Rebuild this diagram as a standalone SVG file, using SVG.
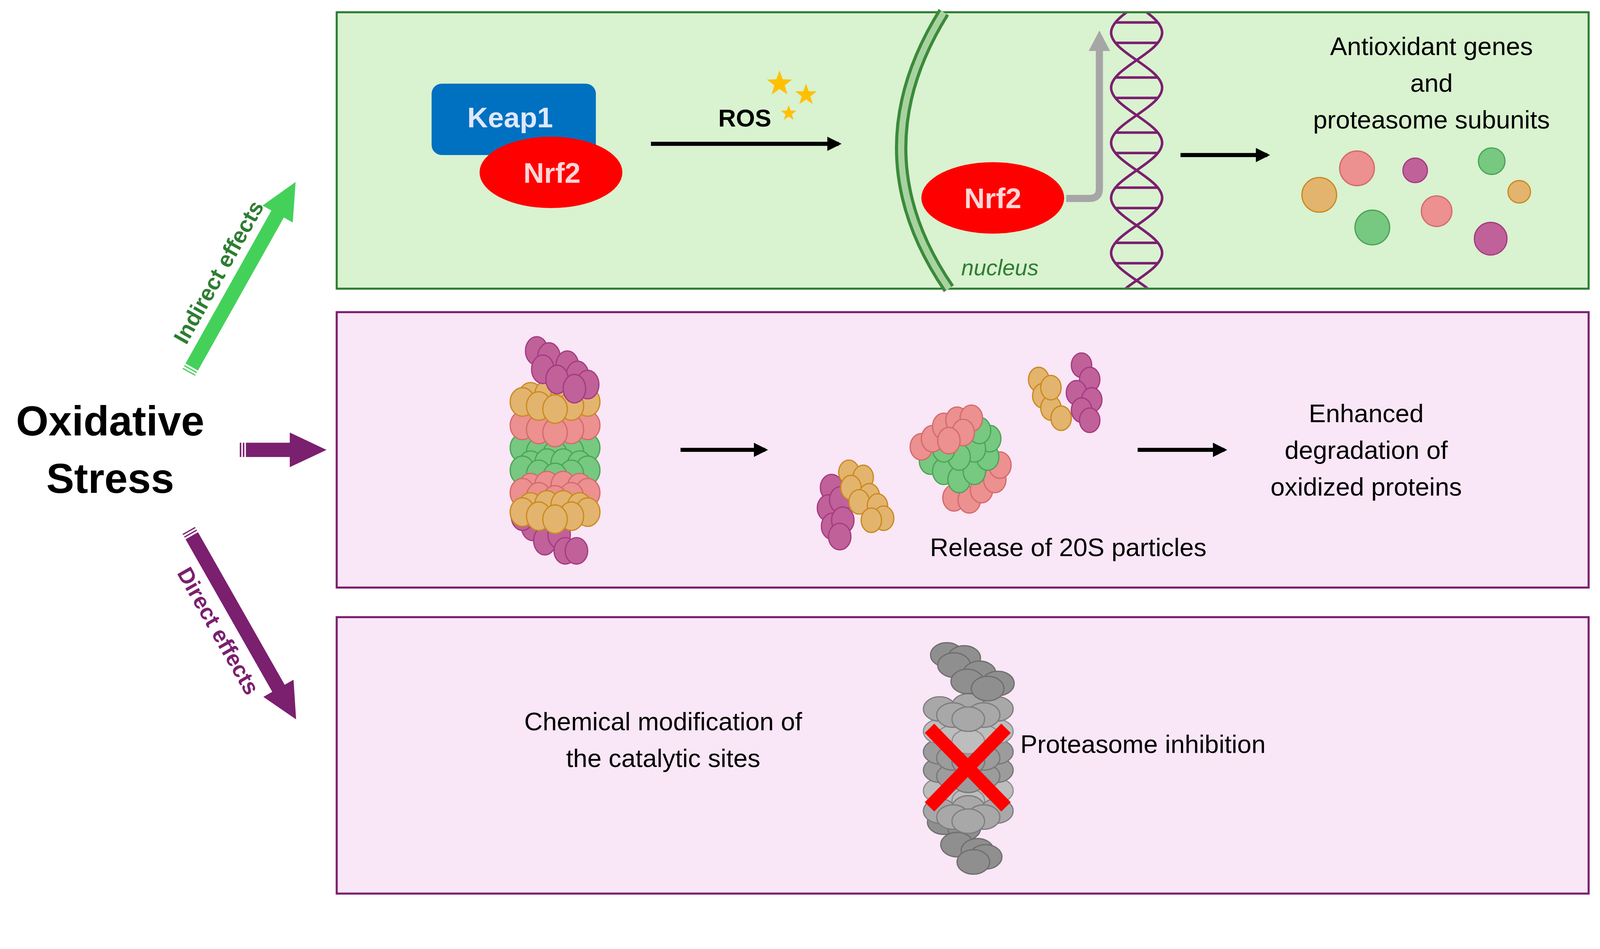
<svg xmlns="http://www.w3.org/2000/svg" xmlns:xlink="http://www.w3.org/1999/xlink" width="4288" height="2430" viewBox="0 0 4288 2430">
<style>
.t{font-family:"Liberation Sans",Arial,sans-serif;font-size:25px;fill:#000;text-anchor:middle}
.b{font-family:"Liberation Sans",Arial,sans-serif;font-weight:bold}
.o{fill:#e3b46e;stroke:#c98a1e;stroke-width:1.2}
.p{fill:#ec9090;stroke:#d46a6a;stroke-width:1.2}
.g{fill:#77c880;stroke:#4aa456;stroke-width:1.2}
.u{fill:#c0619a;stroke:#a53a80;stroke-width:1.2}
.k1{fill:#8f8f8f;stroke:#6e6e6e;stroke-width:1.2}
.k2{fill:#a8a8a8;stroke:#7e7e7e;stroke-width:1.2}
.k3{fill:#bdbdbd;stroke:#8e8e8e;stroke-width:1.2}
.k4{fill:#9c9c9c;stroke:#777;stroke-width:1.2}
.ar{stroke:#000;stroke-width:4;fill:none;marker-end:url(#ah)}
</style>
<defs>
<marker id="ah" viewBox="0 0 10 10" refX="8" refY="5" markerWidth="3.5" markerHeight="4" orient="auto" markerUnits="strokeWidth"><path d="M0,0 L10,5 L0,10 Z" fill="#000"/></marker>
<clipPath id="dnaclip"><rect x="1080" y="13" width="70" height="269"/></clipPath>
<g id="ring">
<ellipse cx="-24" cy="-6" rx="12" ry="14"/><ellipse cx="-8" cy="-8" rx="12" ry="14"/><ellipse cx="8" cy="-8" rx="12" ry="14"/><ellipse cx="24" cy="-6" rx="12" ry="14"/>
<ellipse cx="-32" cy="-1" rx="12" ry="14"/><ellipse cx="32" cy="-1" rx="12" ry="14"/><ellipse cx="-16" cy="3" rx="12" ry="14"/><ellipse cx="16" cy="3" rx="12" ry="14"/><ellipse cx="0" cy="6" rx="12" ry="14"/>
</g>
<g id="gring">
<ellipse cx="-28" cy="-5" rx="16" ry="12"/><ellipse cx="0" cy="-8" rx="16" ry="12"/><ellipse cx="28" cy="-5" rx="16" ry="12"/>
<ellipse cx="-15" cy="1" rx="16" ry="12"/><ellipse cx="15" cy="1" rx="16" ry="12"/><ellipse cx="0" cy="5" rx="16" ry="12"/>
</g>
</defs>
<rect width="4288" height="2430" fill="#fff"/>
<g transform="scale(2.612,2.612)">
<g id="panels">
<rect x="330" y="12" width="1227" height="271" fill="#d9f2d0" stroke="#2e7d32" stroke-width="2"/>
<rect x="330" y="306" width="1227" height="270" fill="#f9e6f6" stroke="#7b1f6f" stroke-width="2"/>
<rect x="330" y="605" width="1227" height="271" fill="#f9e6f6" stroke="#7b1f6f" stroke-width="2"/>
</g>
<g id="oxidative-stress">
<text class="b" x="108" y="427" font-size="41" text-anchor="middle">Oxidative</text>
<text class="b" x="108" y="483" font-size="41" text-anchor="middle">Stress</text>
</g>
<g id="connectors">
<g fill="#7b1f6f">
<rect x="241" y="434" width="47" height="14"/><polygon points="284,424 320,441 284,458"/>
<rect x="235" y="434" width="1.5" height="14"/><rect x="238" y="434" width="1.5" height="14"/>
</g>
<g transform="translate(185,365) rotate(-60.7)">
<rect x="6" y="-7" width="174" height="14" fill="#44d15a"/><rect x="0" y="-7" width="1.2" height="14" fill="#44d15a"/><rect x="3" y="-7" width="1.2" height="14" fill="#44d15a"/><polygon points="178,-17 214,0 178,17" fill="#44d15a"/>
<text class="b" x="100" y="-15" font-size="22" fill="#2e7d32" text-anchor="middle">Indirect effects</text>
</g>
<g transform="translate(185,520) rotate(60.4)">
<rect x="6" y="-7" width="174" height="14" fill="#7b1f6f"/><rect x="0" y="-7" width="1.2" height="14" fill="#7b1f6f"/><rect x="3" y="-7" width="1.2" height="14" fill="#7b1f6f"/><polygon points="178,-17 213,0 178,17" fill="#7b1f6f"/>
<text class="b" x="100" y="31" font-size="22" fill="#7b1f6f" text-anchor="middle">Direct effects</text>
</g>
<line class="ar" x1="638" y1="141" x2="822" y2="141"/>
<line class="ar" x1="1157" y1="152" x2="1242" y2="152"/>
<line class="ar" x1="667" y1="441" x2="750" y2="441"/>
<line class="ar" x1="1115" y1="441" x2="1200" y2="441"/>
<path d="M1045,194.5 H1068 Q1077.5,194.5 1077.5,185 V48" fill="none" stroke="#a6a6a6" stroke-width="7"/>
<polygon points="1077.5,30 1067,50 1088,50" fill="#a6a6a6"/>
</g>
<g id="keap1-nrf2">
<rect x="423" y="82" width="161" height="70" rx="10" fill="#0070c0"/>
<text class="b" x="500" y="125" font-size="28" fill="#dde8ff" text-anchor="middle">Keap1</text>
<ellipse cx="540" cy="169" rx="70" ry="35" fill="#ff0000"/>
<text class="b" x="541" y="179" font-size="28" fill="#ffd6d6" text-anchor="middle">Nrf2</text>
</g>
<g id="ros">
<text class="b" x="730" y="124" font-size="24" text-anchor="middle">ROS</text>
<g fill="#ffc000">
<polygon transform="translate(764,82) scale(1.3)" points="0,-10 2.4,-3.3 9.5,-3.1 3.9,1.3 5.9,8.1 0,4.1 -5.9,8.1 -3.9,1.3 -9.5,-3.1 -2.4,-3.3"/>
<polygon transform="translate(790,93) scale(1.1)" points="0,-10 2.4,-3.3 9.5,-3.1 3.9,1.3 5.9,8.1 0,4.1 -5.9,8.1 -3.9,1.3 -9.5,-3.1 -2.4,-3.3"/>
<polygon transform="translate(773,111) scale(0.8)" points="0,-10 2.4,-3.3 9.5,-3.1 3.9,1.3 5.9,8.1 0,4.1 -5.9,8.1 -3.9,1.3 -9.5,-3.1 -2.4,-3.3"/>
</g>
</g>
<g id="nucleus">
<path d="M925,12 Q839,150 930,283" fill="none" stroke="#3a8a3a" stroke-width="12"/>
<path d="M925,12 Q839,150 930,283" fill="none" stroke="#a8d3a0" stroke-width="6"/>
<text x="980" y="270" font-family="Liberation Sans,Arial,sans-serif" font-style="italic" font-size="22" fill="#2e7d32" text-anchor="middle">nucleus</text>
</g>
<g id="nrf2-nucleus">
<ellipse cx="973" cy="194" rx="70" ry="35" fill="#ff0000"/>
<text class="b" x="973" y="204" font-size="28" fill="#ffd6d6" text-anchor="middle">Nrf2</text>
</g>
<g id="dna" fill="none" stroke="#7b1f6f" stroke-width="2.5" clip-path="url(#dnaclip)">
<path d="M1139,-22 C1139,-2.6 1089,12.6 1089,32 C1089,51.4 1139,66.6 1139,86 C1139,105.4 1089,120.6 1089,140 C1089,159.4 1139,174.6 1139,194 C1139,213.4 1089,228.6 1089,248 C1089,267.4 1139,282.6 1139,302"/>
<path d="M1089,-22 C1089,-2.6 1139,12.6 1139,32 C1139,51.4 1089,66.6 1089,86 C1089,105.4 1139,120.6 1139,140 C1139,159.4 1089,174.6 1089,194 C1089,213.4 1139,228.6 1139,248 C1139,267.4 1089,282.6 1089,302"/>
<path d="M1093,22 H1135 M1093,42 H1135 M1093,76 H1135 M1093,96 H1135 M1093,130 H1135 M1093,150 H1135 M1093,184 H1135 M1093,204 H1135 M1093,238 H1135 M1093,258 H1135"/>
</g>
<g id="antioxidant">
<text class="t" x="1403" y="54">Antioxidant genes</text>
<text class="t" x="1403" y="90">and</text>
<text class="t" x="1403" y="126">proteasome subunits</text>
<circle class="o" cx="1293" cy="191" r="17"/><circle class="p" cx="1330" cy="165" r="17"/>
<circle class="u" cx="1387" cy="167" r="12"/><circle class="g" cx="1462" cy="158" r="13"/>
<circle class="o" cx="1489" cy="188" r="11"/><circle class="p" cx="1408" cy="207" r="15"/>
<circle class="g" cx="1345" cy="223" r="17"/><circle class="u" cx="1461" cy="234" r="16"/>
</g>
<g id="proteasome-26s">
<g class="u"><ellipse cx="522" cy="516" rx="11" ry="14"/><ellipse cx="534" cy="530" rx="11" ry="14"/><ellipse cx="548" cy="524" rx="11" ry="14"/><ellipse cx="554" cy="540" rx="11" ry="13"/><ellipse cx="565" cy="540" rx="11" ry="13"/><ellipse cx="512" cy="506" rx="11" ry="14"/></g>
<use href="#ring" x="544" y="440" class="g"/><use href="#ring" x="544" y="462" class="g"/>
<use href="#ring" x="544" y="418" class="p"/><use href="#ring" x="544" y="484" class="p"/>
<use href="#ring" x="544" y="395" class="o"/><use href="#ring" x="544" y="503" class="o"/>
<g class="u"><ellipse cx="526" cy="344" rx="11" ry="14"/><ellipse cx="538" cy="350" rx="11" ry="14"/><ellipse cx="532" cy="362" rx="11" ry="14"/><ellipse cx="556" cy="358" rx="11" ry="14"/><ellipse cx="566" cy="368" rx="11" ry="14"/><ellipse cx="546" cy="372" rx="11" ry="14"/><ellipse cx="576" cy="377" rx="11" ry="14"/><ellipse cx="563" cy="381" rx="11" ry="14"/></g>
</g>
<g id="fragments">
<g class="u"><ellipse cx="815" cy="478" rx="11" ry="13"/><ellipse cx="812" cy="498" rx="11" ry="13"/><ellipse cx="824" cy="490" rx="11" ry="13"/><ellipse cx="816" cy="516" rx="11" ry="13"/><ellipse cx="826" cy="510" rx="11" ry="13"/><ellipse cx="823" cy="526" rx="11" ry="13"/></g>
<g class="o"><ellipse cx="832" cy="463" rx="10" ry="12"/><ellipse cx="846" cy="468" rx="10" ry="12"/><ellipse cx="834" cy="478" rx="10" ry="12"/><ellipse cx="852" cy="486" rx="10" ry="12"/><ellipse cx="842" cy="492" rx="10" ry="12"/><ellipse cx="860" cy="496" rx="10" ry="12"/><ellipse cx="866" cy="508" rx="10" ry="12"/><ellipse cx="854" cy="510" rx="10" ry="12"/></g>
<g class="p"><ellipse cx="935" cy="488" rx="11" ry="13"/><ellipse cx="950" cy="490" rx="11" ry="13"/><ellipse cx="962" cy="480" rx="11" ry="13"/><ellipse cx="975" cy="470" rx="11" ry="13"/><ellipse cx="980" cy="456" rx="11" ry="13"/></g>
<g class="g"><ellipse cx="912" cy="452" rx="11" ry="13"/><ellipse cx="925" cy="462" rx="11" ry="13"/><ellipse cx="940" cy="470" rx="11" ry="13"/><ellipse cx="955" cy="462" rx="11" ry="13"/><ellipse cx="968" cy="448" rx="11" ry="13"/><ellipse cx="970" cy="430" rx="11" ry="13"/><ellipse cx="955" cy="440" rx="11" ry="13"/><ellipse cx="940" cy="448" rx="11" ry="13"/><ellipse cx="925" cy="440" rx="11" ry="13"/><ellipse cx="960" cy="422" rx="11" ry="13"/></g>
<g class="p"><ellipse cx="903" cy="438" rx="11" ry="13"/><ellipse cx="914" cy="430" rx="11" ry="13"/><ellipse cx="925" cy="418" rx="11" ry="13"/><ellipse cx="938" cy="412" rx="11" ry="13"/><ellipse cx="952" cy="410" rx="11" ry="13"/><ellipse cx="944" cy="424" rx="11" ry="13"/><ellipse cx="930" cy="432" rx="11" ry="13"/></g>
<g class="o"><ellipse cx="1018" cy="372" rx="10" ry="12"/><ellipse cx="1022" cy="388" rx="10" ry="12"/><ellipse cx="1030" cy="400" rx="10" ry="12"/><ellipse cx="1040" cy="410" rx="10" ry="12"/><ellipse cx="1030" cy="380" rx="10" ry="12"/></g>
<g class="u"><ellipse cx="1060" cy="358" rx="10" ry="12"/><ellipse cx="1068" cy="372" rx="10" ry="12"/><ellipse cx="1055" cy="385" rx="10" ry="12"/><ellipse cx="1070" cy="392" rx="10" ry="12"/><ellipse cx="1060" cy="402" rx="10" ry="12"/><ellipse cx="1068" cy="412" rx="10" ry="12"/></g>
<text class="t" x="1047" y="545">Release of 20S particles</text>
</g>
<g id="enhanced">
<text class="t" x="1339" y="414">Enhanced</text>
<text class="t" x="1339" y="450">degradation of</text>
<text class="t" x="1339" y="486">oxidized proteins</text>
</g>
<g id="chemical">
<text class="t" x="650" y="716">Chemical modification of</text>
<text class="t" x="650" y="752">the catalytic sites</text>
</g>
<g id="proteasome-inhibited">
<g class="k1"><ellipse cx="925" cy="806" rx="16" ry="12"/><ellipse cx="945" cy="812" rx="16" ry="12"/><ellipse cx="938" cy="828" rx="16" ry="12"/><ellipse cx="958" cy="834" rx="16" ry="12"/><ellipse cx="966" cy="840" rx="16" ry="12"/><ellipse cx="954" cy="845" rx="16" ry="12"/></g>
<use href="#gring" x="949" y="780" class="k3"/>
<use href="#gring" x="949" y="800" class="k2"/>
<use href="#gring" x="949" y="760" class="k4"/>
<use href="#gring" x="949" y="742" class="k4"/>
<use href="#gring" x="949" y="722" class="k3"/>
<use href="#gring" x="949" y="700" class="k2"/>
<g class="k1"><ellipse cx="928" cy="642" rx="16" ry="12"/><ellipse cx="945" cy="645" rx="16" ry="12"/><ellipse cx="935" cy="652" rx="16" ry="12"/><ellipse cx="960" cy="660" rx="16" ry="12"/><ellipse cx="978" cy="670" rx="16" ry="12"/><ellipse cx="948" cy="668" rx="16" ry="12"/><ellipse cx="968" cy="675" rx="16" ry="12"/></g>
<path d="M911,714 L986,791 M911,791 L986,714" stroke="#ff0000" stroke-width="13"/>
<text class="t" x="1000" y="738" style="text-anchor:start">Proteasome inhibition</text>
</g>
</g>
</svg>
